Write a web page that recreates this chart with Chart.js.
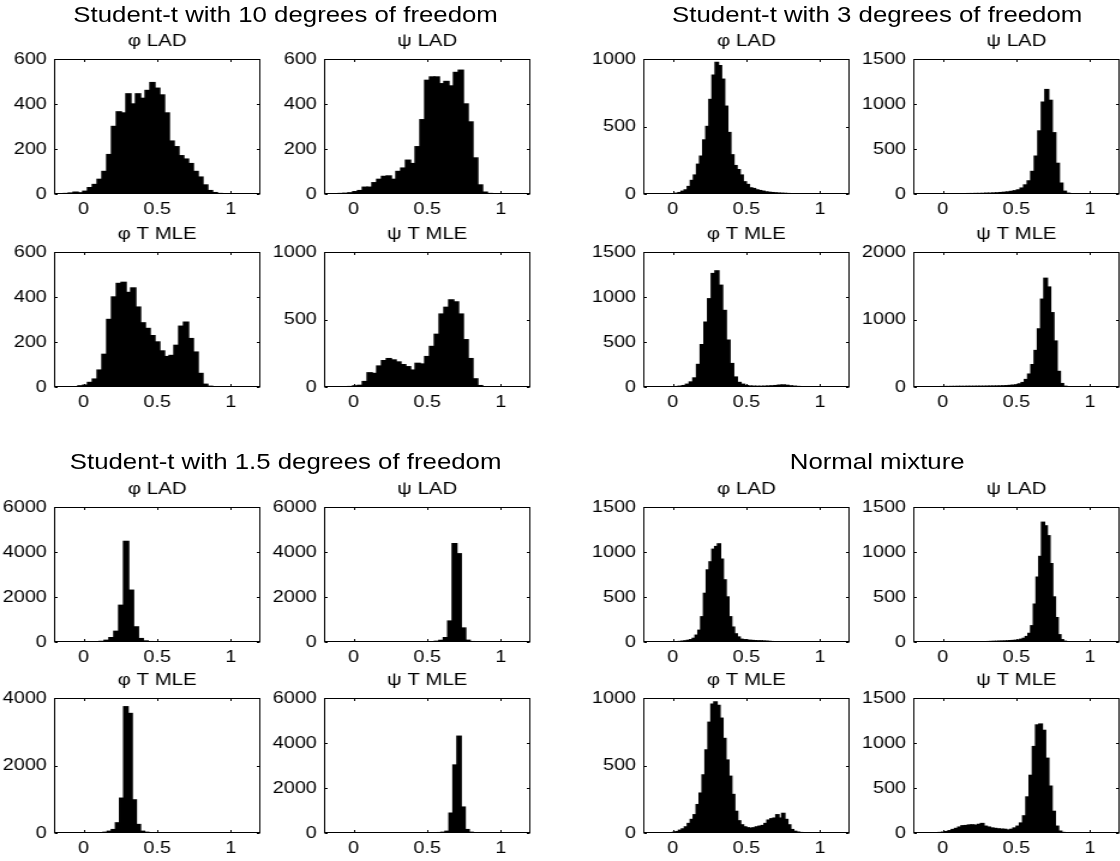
<!DOCTYPE html>
<html><head><meta charset="utf-8">
<script src="https://cdn.jsdelivr.net/npm/chart.js@4.4.1/dist/chart.umd.min.js"></script>
<style>
html,body{margin:0;padding:0;background:#fff;overflow:hidden;width:1120px;height:861px;}
#fig{position:absolute;left:0;top:0;width:933.333px;height:861px;transform:scaleX(1.2);transform-origin:0 0;}
.gt{position:absolute;font-family:"Liberation Sans",Arial,Helvetica,sans-serif;font-size:21.5px;color:#000;white-space:nowrap;transform:translate(-50%,-50%);}
canvas{position:absolute;}
</style></head><body><div id="fig"></div>
<script>
// ---------- data ----------
const groupTitles = ["Student-t with 10 degrees of freedom", "Student-t with 3 degrees of freedom",
                     "Student-t with 1.5 degrees of freedom", "Normal mixture"];
const panelTitles = ["φ LAD", "ψ LAD", "φ T MLE", "ψ T MLE"];
const xTicks = [0, 0.5, 1];

// histogram counts (one array per panel), first bin centre and bin width per panel
const t10PhiLAD  = [2,4,8,5,12,28,42,65,100,175,300,365,360,445,400,445,425,460,495,470,440,360,235,210,170,155,135,100,75,40,15,6,2];
const t10PsiLAD  = [2,3,5,10,15,30,30,50,65,78,80,65,100,115,150,135,210,330,505,520,520,490,500,480,540,550,400,320,160,40,8,2];
const t10PhiTMLE = [5,8,20,35,75,145,300,400,460,465,420,440,355,285,260,228,200,160,135,140,185,270,288,215,155,60,12,3];
const t10PsiTMLE = [3,8,12,40,105,100,155,195,210,200,185,165,150,125,175,170,225,300,390,540,590,645,630,540,350,210,60,10];

const t3PhiLAD  = [2,5,10,20,30,55,100,140,220,280,400,500,700,880,975,950,850,650,455,290,210,180,140,90,70,45,40,30,25,20,15,12,10,8,6,5,4,3,2];
const t3PsiLAD  = [1,1,2,2,2,3,3,4,4,5,5,6,8,8,10,12,15,18,22,28,35,45,65,100,145,250,420,700,1020,1160,1040,680,340,120,30,8];
const t3PhiTMLE = [3,4,8,15,30,55,100,250,470,720,980,1260,1290,1130,850,520,260,110,50,30,15,10,8,7,7,8,10,12,15,20,22,18,12,8,5,3,2];
const t3PsiTMLE = [2,3,4,5,6,6,7,7,8,8,8,9,9,9,10,10,10,11,12,12,13,14,16,18,22,26,30,45,65,110,190,330,540,860,1300,1610,1480,1100,680,230,50,10];

const t15PhiLAD  = [10,25,74,192,474,1630,4470,2300,670,150,44,15,5];
const t15PsiLAD  = [12,30,70,190,930,4370,3920,620,75,15];
const t15PhiTMLE = [20,50,100,300,1030,3740,3540,980,250,50,20,8];
const t15PsiTMLE = [8,15,30,75,880,3020,4300,1150,150,30];

const nmPhiLAD  = [3,5,8,12,18,25,40,75,130,280,540,800,890,1030,1060,1090,920,690,500,280,165,90,55,30,25,20,18,16,14,12,12,10,8,6,4,3];
const nmPsiLAD  = [1,2,2,2,3,3,4,5,6,7,8,9,10,12,14,16,18,22,30,40,60,95,180,420,720,950,1330,1290,1180,870,500,270,80,25,8];
const nmPhiTMLE = [5,10,20,30,45,70,100,135,210,295,430,615,820,955,970,945,850,700,540,420,285,160,90,60,45,38,35,38,45,50,55,70,95,105,110,135,110,145,100,60,25,12,6,3];
const nmPsiTMLE = [3,5,8,15,25,38,50,65,80,82,88,90,85,95,105,75,65,55,50,45,42,40,32,40,55,75,110,190,400,640,960,1200,1210,1140,830,520,240,75,20,5];

const binStart = [-0.1186,-0.0860,-0.0209,-0.0209, 0.005,0.010,0.0,-0.072, 0.091,0.535,0.1475,0.554, 0.029,0.1995,0.01,-0.040];
const binWidth = [0.03256,0.03256,0.03256,0.03256, 0.021,0.024,0.025,0.022, 0.033,0.030,0.028,0.027, 0.019,0.0185,0.020,0.022];
const yMax  = [600,600,600,1000, 1000,1500,1500,2000, 6000,6000,4000,6000, 1500,1500,1000,1500];
const yStep = [200,200,200,500,  500,500,500,1000,   2000,2000,2000,2000,  500,500,500,500];

const allCounts = [t10PhiLAD,t10PsiLAD,t10PhiTMLE,t10PsiTMLE, t3PhiLAD,t3PsiLAD,t3PhiTMLE,t3PsiTMLE,
                   t15PhiLAD,t15PsiLAD,t15PhiTMLE,t15PsiTMLE, nmPhiLAD,nmPsiLAD,nmPhiTMLE,nmPsiTMLE];

// ---------- layout (unstretched coordinates; figure is stretched 1.2x horizontally) ----------
const colLeft = [45, 270, 535.8, 760.8];
const rowTop = [59, 252, 507, 698];
const BOX_W = 172, BOX_H = 135, Y_AX = 45, TITLE_H = 30, X_AX = 28, R_PAD = 4;
const titlePos = [[238, 15], [731, 15], [238, 462], [731, 462]];
const FONT = '"Liberation Sans", Arial, Helvetica, sans-serif';

const fig = document.getElementById('fig');
groupTitles.forEach((t, g) => {
  const d = document.createElement('div');
  d.className = 'gt'; d.textContent = t;
  d.style.left = titlePos[g][0] + 'px'; d.style.top = titlePos[g][1] + 'px';
  fig.appendChild(d);
});

const boxPlugin = {
  id: 'matlabBox',
  afterDraw(chart) {
    const {ctx, chartArea: a, scales} = chart;
    ctx.save();
    ctx.strokeStyle = '#000'; ctx.lineWidth = 1;
    const L = Math.round(a.left) + 0.5, R = Math.round(a.right) - 0.5, T = Math.round(a.top) + 0.5, B = Math.round(a.bottom) - 0.5;
    ctx.strokeRect(L, T, R - L, B - T);
    const tl = 2.5;
    ctx.beginPath();
    scales.x.ticks.forEach(t => {
      const px = Math.round(scales.x.getPixelForValue(t.value)) + 0.5;
      ctx.moveTo(px, B); ctx.lineTo(px, B - tl);
      ctx.moveTo(px, T); ctx.lineTo(px, T + tl);
    });
    scales.y.ticks.forEach(t => {
      const py = Math.round(scales.y.getPixelForValue(t.value)) + 0.5;
      ctx.moveTo(L, py); ctx.lineTo(L + tl, py);
      ctx.moveTo(R, py); ctx.lineTo(R - tl, py);
    });
    ctx.stroke();
    ctx.restore();
  }
};

for (let g = 0; g < 4; g++) {
  for (let p = 0; p < 4; p++) {
    const idx = g * 4 + p;
    const col = (g % 2) * 2 + (p % 2);
    const row = Math.floor(g / 2) * 2 + Math.floor(p / 2);
    const cv = document.createElement('canvas');
    const W = Y_AX + BOX_W + R_PAD, H = TITLE_H + BOX_H + X_AX;
    cv.width = W; cv.height = H;
    cv.style.left = (colLeft[col] - Y_AX) + 'px';
    cv.style.top = (rowTop[row] - TITLE_H) + 'px';
    cv.style.width = W + 'px'; cv.style.height = H + 'px';
    fig.appendChild(cv);

    const counts = allCounts[idx];
    const pts = counts.map((c, i) => ({x: +(binStart[idx] + i * binWidth[idx]).toFixed(5), y: c}));
    const ym = yMax[idx], ys = yStep[idx];

    new Chart(cv, {
      type: 'bar',
      data: { datasets: [{ data: pts, backgroundColor: '#000', borderColor: '#000', borderWidth: 0,
                           inflateAmount: 0.7, categoryPercentage: 1, barPercentage: 1 }] },
      options: {
        responsive: false, animation: false, devicePixelRatio: 1,
        layout: { padding: { left: 0, right: R_PAD, top: 0, bottom: 0 } },
        plugins: {
          legend: { display: false }, tooltip: { enabled: false },
          title: { display: true, text: panelTitles[p], color: '#000', fullSize: false,
                   font: { family: FONT, size: 17, weight: 'normal', lineHeight: 1.2 },
                   padding: { top: 1.8, bottom: 7.8 } }
        },
        scales: {
          x: { type: 'linear', min: -0.2, max: 1.2, offset: false,
               grid: { display: false, drawTicks: false }, border: { display: false },
               afterBuildTicks: s => { s.ticks = xTicks.map(v => ({value: v})); },
               afterFit: s => { s.height = X_AX; },
               ticks: { color: '#000', padding: 5.1, maxRotation: 0, autoSkip: false,
                        font: { family: FONT, size: 16.5, lineHeight: 1.2 }, callback: v => String(v) } },
          y: { type: 'linear', min: 0, max: ym,
               grid: { display: false, drawTicks: false }, border: { display: false },
               afterBuildTicks: s => { const t = []; for (let v = 0; v <= ym; v += ys) t.push({value: v}); s.ticks = t; },
               afterFit: s => { s.width = Y_AX; },
               ticks: { color: '#000', padding: 6, autoSkip: false,
                        font: { family: FONT, size: 16.5, lineHeight: 1.2 }, callback: v => String(v) } }
        }
      },
      plugins: [boxPlugin]
    });
  }
}
</script></body></html>
